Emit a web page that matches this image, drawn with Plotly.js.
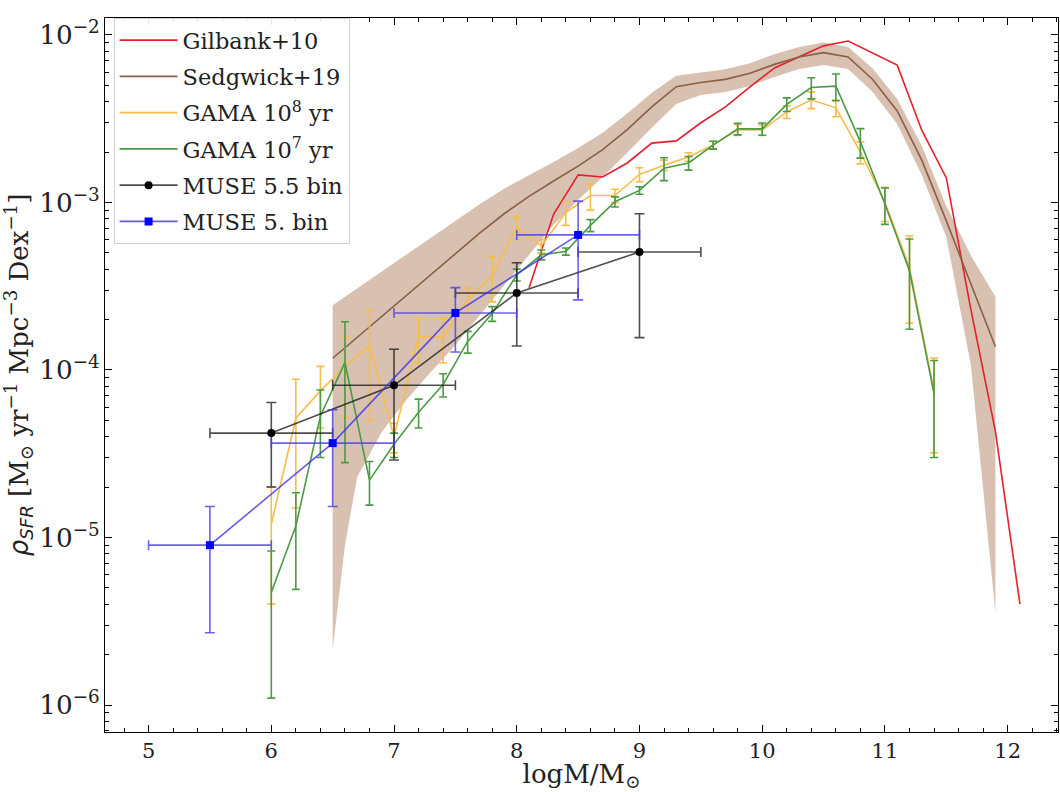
<!DOCTYPE html>
<html>
<head>
<meta charset="utf-8">
<script src="https://cdn.plot.ly/plotly-3.0.1.min.js"></script>
<style>html,body{margin:0;padding:0;background:#fff;}#chart{width:1060px;height:792px;}</style>
</head>
<body>
<div id="chart"></div>
<script>
// Gilbank+10
const gilbankX = [8.1, 8.3, 8.5, 8.7, 8.9, 9.1, 9.3, 9.5, 9.7, 9.9, 10.1, 10.3, 10.5, 10.7, 11.1, 11.3, 11.5, 11.7, 11.9, 12.1];
const gilbankY = [3.1e-4, 8.5e-4, 1.46e-3, 1.42e-3, 1.72e-3, 2.26e-3, 2.33e-3, 2.99e-3, 3.72e-3, 4.9e-3, 6.35e-3, 7.4e-3, 8.6e-3, 9.2e-3, 6.6e-3, 2.7e-3, 1.4e-3, 2.3e-4, 4.3e-5, 4.0e-6];

// Sedgwick+19 (line, lower and upper edge of shaded band)
const sedgX  = [6.5, 6.6, 6.7, 6.9, 7.1, 7.3, 7.5, 7.7, 7.9, 8.1, 8.3, 8.5, 8.7, 8.9, 9.1, 9.3, 9.5, 9.7, 9.9, 10.1, 10.3, 10.5, 10.7, 10.9, 11.1, 11.3, 11.5, 11.7, 11.9];
const sedgY  = [1.175e-4, 1.355e-4, 1.563e-4, 2.08e-4, 2.78e-4, 3.70e-4, 4.93e-4, 6.58e-4, 8.59e-4, 1.086e-3, 1.343e-3, 1.648e-3, 2.066e-3, 2.723e-3, 3.715e-3, 4.91e-3, 5.20e-3, 5.43e-3, 5.90e-3, 6.67e-3, 7.39e-3, 7.84e-3, 7.39e-3, 5.42e-3, 3.52e-3, 1.79e-3, 7.76e-4, 3.24e-4, 1.377e-4];
const sedgHi = [2.43e-4, 2.73e-4, 3.07e-4, 3.87e-4, 4.88e-4, 6.15e-4, 7.77e-4, 9.80e-4, 1.213e-3, 1.45e-3, 1.745e-3, 2.11e-3, 2.61e-3, 3.40e-3, 4.51e-3, 5.71e-3, 5.97e-3, 6.23e-3, 6.78e-3, 7.66e-3, 8.48e-3, 9.00e-3, 8.48e-3, 6.31e-3, 4.15e-3, 2.17e-3, 9.53e-4, 4.83e-4, 2.74e-4];
const sedgLo = [2.13e-6, 9.0e-6, 2.30e-5, 4.27e-5, 6.62e-5, 9.73e-5, 1.41e-4, 2.13e-4, 3.22e-4, 4.86e-4, 7.34e-4, 1.035e-3, 1.42e-3, 1.98e-3, 2.79e-3, 3.87e-3, 4.38e-3, 4.57e-3, 4.96e-3, 5.61e-3, 6.27e-3, 6.62e-3, 6.27e-3, 4.57e-3, 2.94e-3, 1.46e-3, 6.22e-4, 1.07e-4, 3.54e-6];

// GAMA
const gamaX = [6.0, 6.2, 6.4, 6.6, 6.8, 7.0, 7.2, 7.4, 7.6, 7.8, 8.0, 8.2, 8.4, 8.6, 8.8, 9.0, 9.2, 9.4, 9.6, 9.8, 10.0, 10.2, 10.4, 10.6, 10.8, 11.0, 11.2, 11.4];
const gama8Y   = [1.2e-5, 5.15e-5, 7.5e-5, 1.05e-4, 1.39e-4, 4.0e-5, 1.57e-4, 1.57e-4, 2.64e-4, 3.65e-4, 7.1e-4, 5.5e-4, 8.7e-4, 1.1e-3, 1.1e-3, 1.47e-3, 1.67e-3, 1.87e-3, 2.2e-3, 2.71e-3, 2.71e-3, 3.47e-3, 4.1e-3, 3.67e-3, 2.0e-3, 1.0e-3, 4.1e-4, 7.5e-5];
const gama8Err = [8e-6, 3.65e-5, 3e-5, 5.3e-5, 8.9e-5, 8e-6, 4.7e-5, 4.7e-5, 4.5e-5, 1.1e-4, 1.1e-4, 5e-5, 1.4e-4, 2e-4, 1e-4, 1.4e-4, 1.2e-4, 1.1e-4, 1.1e-4, 2e-4, 2e-4, 3e-4, 4.7e-4, 4.2e-4, 3e-4, 2.3e-4, 2.2e-4, 4.3e-5];
const gama7Y   = [4.7e-6, 1.17e-5, 5.3e-5, 1.11e-4, 2.2e-5, 3.6e-5, 5.6e-5, 8.2e-5, 1.48e-4, 2.17e-4, 3.7e-4, 4.87e-4, 5.1e-4, 7.3e-4, 1.01e-3, 1.18e-3, 1.6e-3, 1.72e-3, 2.2e-3, 2.75e-3, 2.75e-3, 3.85e-3, 4.85e-3, 4.95e-3, 2.3e-3, 9.8e-4, 3.9e-4, 7.2e-5];
const gama7Err = [3.6e-6, 6.8e-6, 2.3e-5, 8.3e-5, 6.4e-6, 6e-6, 1.1e-5, 1.3e-5, 2.2e-5, 2.2e-5, 3e-5, 3.3e-5, 2.5e-5, 6e-5, 7e-5, 6e-5, 2.5e-4, 1.6e-4, 1.2e-4, 2.2e-4, 2.3e-4, 3.6e-4, 7e-4, 9e-4, 4.6e-4, 2.4e-4, 2.15e-4, 4.2e-5];

// MUSE
const muse55X = [6, 7, 8, 9];
const muse55Y = [4.2e-5, 8.1e-5, 2.88e-4, 5.06e-4];
const muse55Err = [2.2e-5, 5.2e-5, 1.49e-4, 3.5e-4];
const muse5X = [5.5, 6.5, 7.5, 8.5];
const muse5Y = [9.0e-6, 3.66e-5, 2.19e-4, 6.4e-4];
const muse5Err = [6.3e-6, 2.13e-5, 9.1e-5, 3.78e-4];
const binHalfWidth = 0.5;

const SERIF = 'DejaVu Serif, serif';

const traces = [
  {
    x: sedgX.concat(sedgX.slice().reverse()),
    y: sedgHi.concat(sedgLo.slice().reverse()),
    type: 'scatter', mode: 'lines', fill: 'toself',
    fillcolor: 'rgba(160,100,60,0.40)', line: {width: 0, color: 'rgba(0,0,0,0)'},
    showlegend: false, hoverinfo: 'skip', legendgroup: 'b'
  },
  {
    x: gilbankX, y: gilbankY, type: 'scatter', mode: 'lines', name: 'Gilbank+10',
    line: {color: '#e5202e', width: 1.6}, legendgroup: 'a', legendrank: 1
  },
  {
    x: sedgX, y: sedgY, type: 'scatter', mode: 'lines', name: 'Sedgwick+19',
    line: {color: '#8a5f45', width: 1.6}, legendgroup: 'b', legendrank: 2
  },
  {
    x: gamaX, y: gama8Y, type: 'scatter', mode: 'lines', name: 'GAMA 10<sup>8</sup> yr',
    line: {color: '#f6bd4a', width: 1.6},
    error_y: {type: 'data', array: gama8Err, visible: true, color: '#f6bd4a', thickness: 1.6, width: 4},
    legendgroup: 'c', legendrank: 3
  },
  {
    x: gamaX, y: gama7Y, type: 'scatter', mode: 'lines', name: 'GAMA 10<sup>7</sup> yr',
    line: {color: '#4b9a45', width: 1.6},
    error_y: {type: 'data', array: gama7Err, visible: true, color: '#4b9a45', thickness: 1.6, width: 4},
    legendgroup: 'd', legendrank: 4
  },
  {
    x: muse55X, y: muse55Y, type: 'scatter', mode: 'lines+markers', name: 'MUSE 5.5 bin',
    line: {color: 'rgba(20,20,20,0.75)', width: 1.6},
    marker: {color: '#000', size: 8, symbol: 'circle'},
    error_y: {type: 'data', array: muse55Err, visible: true, color: 'rgba(20,20,20,0.75)', thickness: 1.6, width: 5},
    error_x: {type: 'constant', value: binHalfWidth, visible: true, color: 'rgba(20,20,20,0.75)', thickness: 1.6, width: 5},
    legendgroup: 'e', legendrank: 5
  },
  {
    x: muse5X, y: muse5Y, type: 'scatter', mode: 'lines+markers', name: 'MUSE 5. bin',
    line: {color: 'rgba(60,50,230,0.8)', width: 1.6},
    marker: {color: '#0000ff', size: 8, symbol: 'square'},
    error_y: {type: 'data', array: muse5Err, visible: true, color: 'rgba(70,60,230,0.8)', thickness: 1.6, width: 5},
    error_x: {type: 'constant', value: binHalfWidth, visible: true, color: 'rgba(70,60,230,0.8)', thickness: 1.6, width: 5},
    legendgroup: 'f', legendrank: 6
  }
];

const layout = {
  width: 1060, height: 792,
  margin: {l: 105, r: 2, t: 18, b: 60},
  paper_bgcolor: '#fff', plot_bgcolor: '#fff',
  font: {family: SERIF, size: 21, color: '#222'},
  showlegend: true,
  legend: {
    x: 0.009, y: 1.0, xanchor: 'left', yanchor: 'top',
    bgcolor: 'rgba(255,255,255,0.9)', bordercolor: '#d0d0d0', borderwidth: 1,
    font: {family: SERIF, size: 22.5, color: '#222'},
    tracegroupgap: 4, itemwidth: 58, traceorder: 'grouped'
  },
  xaxis: {
    range: [4.645, 12.41], showgrid: false, zeroline: false,
    showline: true, linecolor: '#000', linewidth: 1, mirror: 'allticks',
    ticks: 'inside', ticklen: 7, tickcolor: '#000',
    dtick: 1, tick0: 0,
    minor: {ticks: 'inside', ticklen: 4, dtick: 0.2, tickcolor: '#000'},
    tickfont: {family: SERIF, size: 21, color: '#222'},
    title: {text: 'logM/M<sub>⊙</sub>', font: {family: SERIF, size: 26, color: '#222'}, standoff: 0}
  },
  yaxis: {
    type: 'log', range: [-6.161, -1.899], showgrid: false, zeroline: false,
    showline: true, linecolor: '#000', linewidth: 1, mirror: 'allticks',
    ticks: 'inside', ticklen: 7, tickcolor: '#000',
    dtick: 1, exponentformat: 'power',
    minor: {ticks: 'inside', ticklen: 4, dtick: 'D1', tickcolor: '#000'},
    tickfont: {family: SERIF, size: 21, color: '#222'},
    title: {text: '<span style="font-family:DejaVu Sans"><i>ρ</i><sub><i>SFR</i></sub></span> [M<sub>⊙</sub> yr<sup>−1</sup> Mpc<sup>−3</sup> Dex<sup>−1</sup>]', font: {family: SERIF, size: 26, color: '#222'}, standoff: 6}
  }
};

Plotly.newPlot('chart', traces, layout, {staticPlot: true, displayModeBar: false});
</script>
</body>
</html>
